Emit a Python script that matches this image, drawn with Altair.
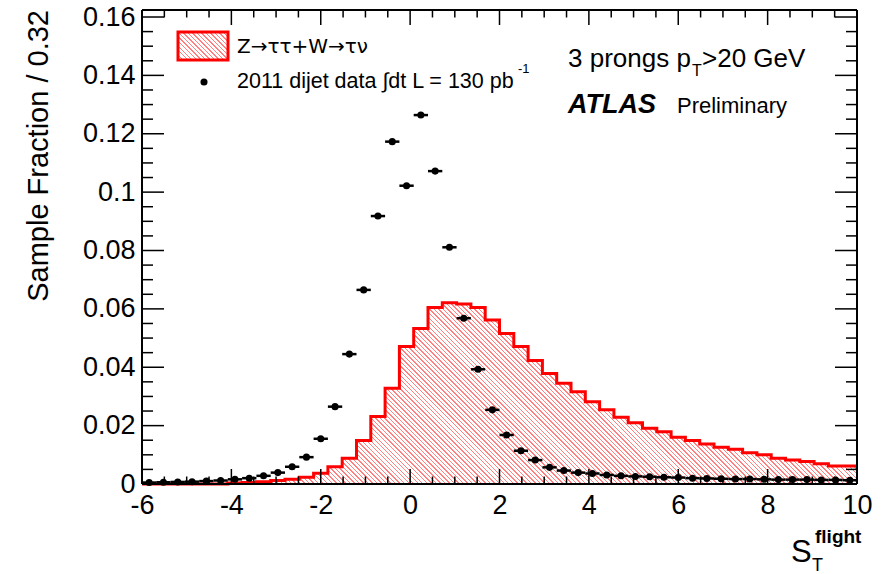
import math
import altair as alt
import pandas as pd

# ---------------- data ----------------
BIN_LO = -6.0   # first bin edge
BIN_W = 0.32    # bin width ("Sample Fraction / 0.32")

# Z->tautau + W->taunu (hatched red histogram), fraction per bin
mc_frac = [0.0, 0.0, 0.0, 0.0, 0.0, 0.0,
           0.0003, 0.0005, 0.0008, 0.0012, 0.0016, 0.0023, 0.0037, 0.0059, 0.0088, 0.0149,
           0.0231, 0.0328, 0.0471, 0.0533, 0.0605, 0.0621, 0.0617, 0.0605, 0.0562, 0.0516,
           0.0471, 0.0423, 0.0379, 0.0345, 0.0316, 0.0282, 0.0254, 0.0229, 0.0210, 0.0191,
           0.0179, 0.0160, 0.0149, 0.0137, 0.0126, 0.0119, 0.0107, 0.0100, 0.0088, 0.0082,
           0.0077, 0.0069, 0.0062, 0.0062]

# 2011 dijet data (black points), fraction per bin
data_frac = [0.0005, 0.0006, 0.0007, 0.0008, 0.0010, 0.0012, 0.0016, 0.0020, 0.0028, 0.0039,
             0.0059, 0.0092, 0.0155, 0.0265, 0.0445, 0.0665, 0.0918, 0.1173, 0.1022, 0.1264,
             0.1072, 0.0811, 0.0568, 0.0393, 0.0254, 0.0168, 0.0114, 0.0082, 0.0057, 0.0046,
             0.0039, 0.0036, 0.0031, 0.0028, 0.0026, 0.0025, 0.0023, 0.0022, 0.0020, 0.0019,
             0.0018, 0.0017, 0.0017, 0.0016, 0.0015, 0.0015, 0.0015, 0.0014, 0.0014, 0.0013]

x_major = [-6, -4, -2, 0, 2, 4, 6, 8, 10]
x_minor = [v / 2 for v in range(-12, 21) if v % 4 != 0]
y_major = [0, 0.02, 0.04, 0.06, 0.08, 0.1, 0.12, 0.14, 0.16]
y_minor = [round(i * 0.005, 3) for i in range(33) if i % 4 != 0]

legend_mc = "Z\u2192\u03c4\u03c4+W\u2192\u03c4\u03bd"
legend_data = "2011 dijet data \u222bdt L = 130 pb"

# ---------------- layout ----------------
W, H = 715, 474
YMAX = 0.1624
FONT = "Liberation Sans"
xs = alt.Scale(domain=[-6, 10], nice=False, zero=False)
ys = alt.Scale(domain=[0, YMAX], nice=False, zero=False)

n = len(mc_frac)
edges = [round(BIN_LO + BIN_W * i, 2) for i in range(n + 1)]
hist = pd.DataFrame({"x": edges, "y": mc_frac + [mc_frac[-1]]})
pts = pd.DataFrame({
    "c": [round(BIN_LO + BIN_W * (i + 0.5), 2) for i in range(n)],
    "lo": edges[:-1],
    "hi": edges[1:],
    "v": data_frac,
})


def hatch(bw, bh, period=3.2, lw=1.0, col="#ff8080"):
    ext = (bw + bh) / math.sqrt(2)
    k = (bw + bh) / (bw ** 2 + bh ** 2)
    stops = []
    i = 0
    while i * period < ext:
        t0 = i * period / ext
        t1 = min((i * period + lw) / ext, 1.0)
        t2 = min((i + 1) * period / ext, 1.0)
        stops += [alt.GradientStop(offset=t0, color=col),
                  alt.GradientStop(offset=t1, color=col),
                  alt.GradientStop(offset=t1, color="white"),
                  alt.GradientStop(offset=t2, color="white")]
        i += 1
    return alt.LinearGradient(gradient="linear", stops=stops,
                              x1=0, y1=1, x2=k * bw, y2=1 - k * bh)


area_h = max(mc_frac) / YMAX * H

x_axis = alt.Axis(values=x_major, labelExpr="'' + datum.value", ticks=False, domain=False,
                  grid=False, labelFont=FONT, labelFontSize=27, labelColor="black",
                  labelPadding=8, labelFlush=False, labelOverlap=False, title=None)
y_axis = alt.Axis(values=y_major, labelExpr="'' + datum.value", ticks=False, domain=False,
                  grid=False, labelFont=FONT, labelFontSize=27, labelColor="black",
                  labelPadding=7, labelFlush=False, labelOverlap=False, title=None)


def X(field):
    return alt.X(field, scale=xs, axis=x_axis)


def Y(field):
    return alt.Y(field, scale=ys, axis=y_axis)


area = alt.Chart(hist).mark_area(interpolate="step-after", fill=hatch(W, area_h)).encode(
    x=X("x:Q"), y=Y("y:Q"))
outline = alt.Chart(hist).mark_line(interpolate="step-after", color="#ff0000", strokeWidth=3).encode(
    x=X("x:Q"), y=Y("y:Q"))
ebars = alt.Chart(pts).mark_rule(color="black", strokeWidth=2.5).encode(
    x=X("lo:Q"), x2="hi:Q", y=Y("v:Q"))
dots = alt.Chart(pts).mark_circle(color="black", opacity=1, size=50).encode(
    x=X("c:Q"), y=Y("v:Q"))


def xticks(vals, length):
    d = pd.DataFrame({"t": vals})
    bot = alt.Chart(d).mark_rule(color="black", strokeWidth=1.5).encode(
        x=X("t:Q"), y=alt.value(H), y2=alt.value(H - length))
    top = alt.Chart(d).mark_rule(color="black", strokeWidth=1.5).encode(
        x=X("t:Q"), y=alt.value(0), y2=alt.value(length))
    return [bot, top]


def yticks(vals, length):
    d = pd.DataFrame({"t": vals})
    left = alt.Chart(d).mark_rule(color="black", strokeWidth=1.5).encode(
        y=Y("t:Q"), x=alt.value(0), x2=alt.value(length))
    right = alt.Chart(d).mark_rule(color="black", strokeWidth=1.5).encode(
        y=Y("t:Q"), x=alt.value(W), x2=alt.value(W - length))
    return [left, right]


one = pd.DataFrame({"a": [0]})
frame = [
    alt.Chart(one).mark_rule(color="black", strokeWidth=2).encode(
        x=alt.value(0), x2=alt.value(W), y=alt.value(0)),
    alt.Chart(one).mark_rule(color="black", strokeWidth=2).encode(
        x=alt.value(0), x2=alt.value(W), y=alt.value(H)),
    alt.Chart(one).mark_rule(color="black", strokeWidth=2).encode(
        y=alt.value(0), y2=alt.value(H), x=alt.value(0)),
    alt.Chart(one).mark_rule(color="black", strokeWidth=2).encode(
        y=alt.value(0), y2=alt.value(H), x=alt.value(W)),
]


def txt(s, x, y, size, **kw):
    props = dict(font=FONT, fontSize=size, color="black", align="left", baseline="alphabetic")
    props.update(kw)
    return alt.Chart(pd.DataFrame({"t": [s]})).mark_text(**props).encode(
        text="t:N", x=alt.value(x), y=alt.value(y))


texts = [
    txt("Sample Fraction / 0.32", -94, 0, 29, angle=270, align="right"),
    txt("S", 649, 552, 31),
    txt("flight", 673, 533, 19, fontWeight="bold"),
    txt("T", 670, 561, 18),
    txt(legend_mc, 95, 37, 20, baseline="middle", font="DejaVu Sans"),
    txt(legend_data, 95, 72, 21.5, baseline="middle"),
    txt("-1", 376, 63, 13),
    txt("3 prongs p", 426, 57, 26),
    txt("T", 550, 66, 16),
    txt(">20 GeV", 560, 57, 26),
    txt("ATLAS", 426, 103, 27, fontWeight="bold", fontStyle="italic"),
    txt("Preliminary", 535, 103, 22),
]

leg_box = alt.Chart(one).mark_rect(fill=hatch(50, 28), stroke="#ff0000", strokeWidth=3).encode(
    x=alt.value(36), x2=alt.value(86), y=alt.value(22), y2=alt.value(50))
leg_dot = alt.Chart(one).mark_circle(color="black", opacity=1, size=50).encode(
    x=alt.value(62), y=alt.value(72))

layers = [area, outline, ebars, dots]
layers += xticks(x_major, 15) + xticks(x_minor, 7.5)
layers += yticks(y_major, 22) + yticks(y_minor, 11)
layers += frame + [leg_box, leg_dot] + texts

chart = alt.layer(*layers).properties(
    width=W, height=H,
    autosize=alt.AutoSizeParams(type="none"),
    padding={"left": 142, "top": 10, "right": 31, "bottom": 90},
    background="white",
).configure_view(stroke=None)

chart.save("out.html", embed_options={"renderer": "svg", "actions": False})
